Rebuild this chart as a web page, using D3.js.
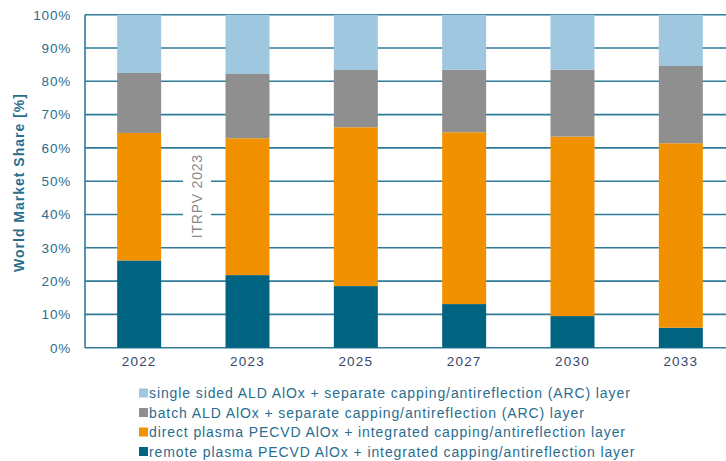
<!DOCTYPE html>
<html><head><meta charset="utf-8">
<script src="https://cdn.jsdelivr.net/npm/d3@7"></script>
<style>body{margin:0;background:#fff}svg{display:block}text{font-family:"Liberation Sans",Arial,sans-serif}</style>
</head><body><svg id="c" width="726" height="461"></svg>
<script>
const years = ["2022","2023","2025","2027","2030","2033"];
const seriesNames = [
  "remote plasma PECVD AlOx + integrated capping/antireflection layer",
  "direct plasma PECVD AlOx + integrated capping/antireflection layer",
  "batch ALD AlOx + separate capping/antireflection (ARC) layer",
  "single sided ALD AlOx + separate capping/antireflection (ARC) layer"
];
const remotePlasma = [26.2, 21.8, 18.5, 13.1, 9.5, 6.0];
const directPlasma = [38.3, 41.1, 47.7, 51.6, 53.9, 55.4];
const batchALD = [18.0, 19.3, 17.2, 18.8, 20.1, 23.2];
const singleALD = [17.5, 17.8, 16.6, 16.5, 16.5, 15.4];
const yTicks = [0,10,20,30,40,50,60,70,80,90,100];
const colors = ["#00637f","#f29100","#8f8f8f","#9fc7df"];
const watermark = "ITRPV 2023";
const yTitle = "World Market Share [%]";

const svg = d3.select("#c");
const x = d3.scaleBand().domain(years).range([85, 735]).paddingInner(0.594).paddingOuter(0.297);
const y = d3.scaleLinear().domain([0,100]).range([347.7, 14.7]);
const gridColor = "#2f7b98";

// gridlines
svg.append("g").selectAll("line").data(yTicks).join("line")
  .attr("x1", 85).attr("x2", 735)
  .attr("y1", d=>y(d)).attr("y2", d=>y(d))
  .attr("stroke", gridColor).attr("stroke-width", 1.6);

// watermark
const wm = svg.append("g").attr("transform", `translate(197,${y(45.5)}) rotate(-90)`);
wm.append("rect").attr("x",-46).attr("y",-14).attr("width",92).attr("height",28).attr("fill","#fff");
wm.append("text").attr("text-anchor","middle").attr("dy","0.36em")
  .attr("font-size",14).attr("fill","#8a8a8a").attr("letter-spacing",0.8).text(watermark);

// bars
const rows = years.map((yr,i)=>({year:yr, s0:remotePlasma[i], s1:directPlasma[i], s2:batchALD[i], s3:singleALD[i]}));
const stack = d3.stack().keys(["s0","s1","s2","s3"])(rows);
svg.append("g").selectAll("g").data(stack).join("g").attr("fill",(d,i)=>colors[i])
  .selectAll("rect").data(d=>d).join("rect")
  .attr("x", d=>x(d.data.year)).attr("width", x.bandwidth())
  .attr("y", d=>y(d[1])).attr("height", d=>y(d[0])-y(d[1]));

// left axis line
svg.append("line").attr("x1",85).attr("x2",85).attr("y1",y(100)).attr("y2",y(0))
  .attr("stroke",gridColor).attr("stroke-width",1.6);

// y ticks
svg.append("g").selectAll("text").data(yTicks).join("text")
  .attr("x",71).attr("y",d=>y(d)).attr("dy","0.36em").attr("text-anchor","end")
  .attr("font-size",13.5).attr("letter-spacing",0.8).attr("fill","#2a6d8e").text(d=>d+"%");

// x labels
svg.append("g").selectAll("text").data(years).join("text")
  .attr("x",d=>x(d)+x.bandwidth()/2).attr("y",366).attr("text-anchor","middle")
  .attr("font-size",13.5).attr("letter-spacing",1.2).attr("fill","#34476a").text(d=>d);

// y title
svg.append("text").attr("transform",`translate(24,182.5) rotate(-90)`)
  .attr("text-anchor","middle").attr("font-size",14).attr("font-weight","bold")
  .attr("letter-spacing",1).attr("fill","#2a6d8e").text(yTitle);

// legend (top to bottom: reverse order)
const legOrder = [3,2,1,0];
const lg = svg.append("g").selectAll("g").data(legOrder).join("g")
  .attr("transform",(d,i)=>`translate(139,${393+i*19.5})`);
lg.append("rect").attr("x",0).attr("y",-4.5).attr("width",9).attr("height",9).attr("fill",d=>colors[d]);
lg.append("text").attr("x",10).attr("dy","0.36em").attr("font-size",14).attr("letter-spacing",0.9)
  .attr("fill","#2a6d8e").text(d=>seriesNames[d]);
</script></body></html>
